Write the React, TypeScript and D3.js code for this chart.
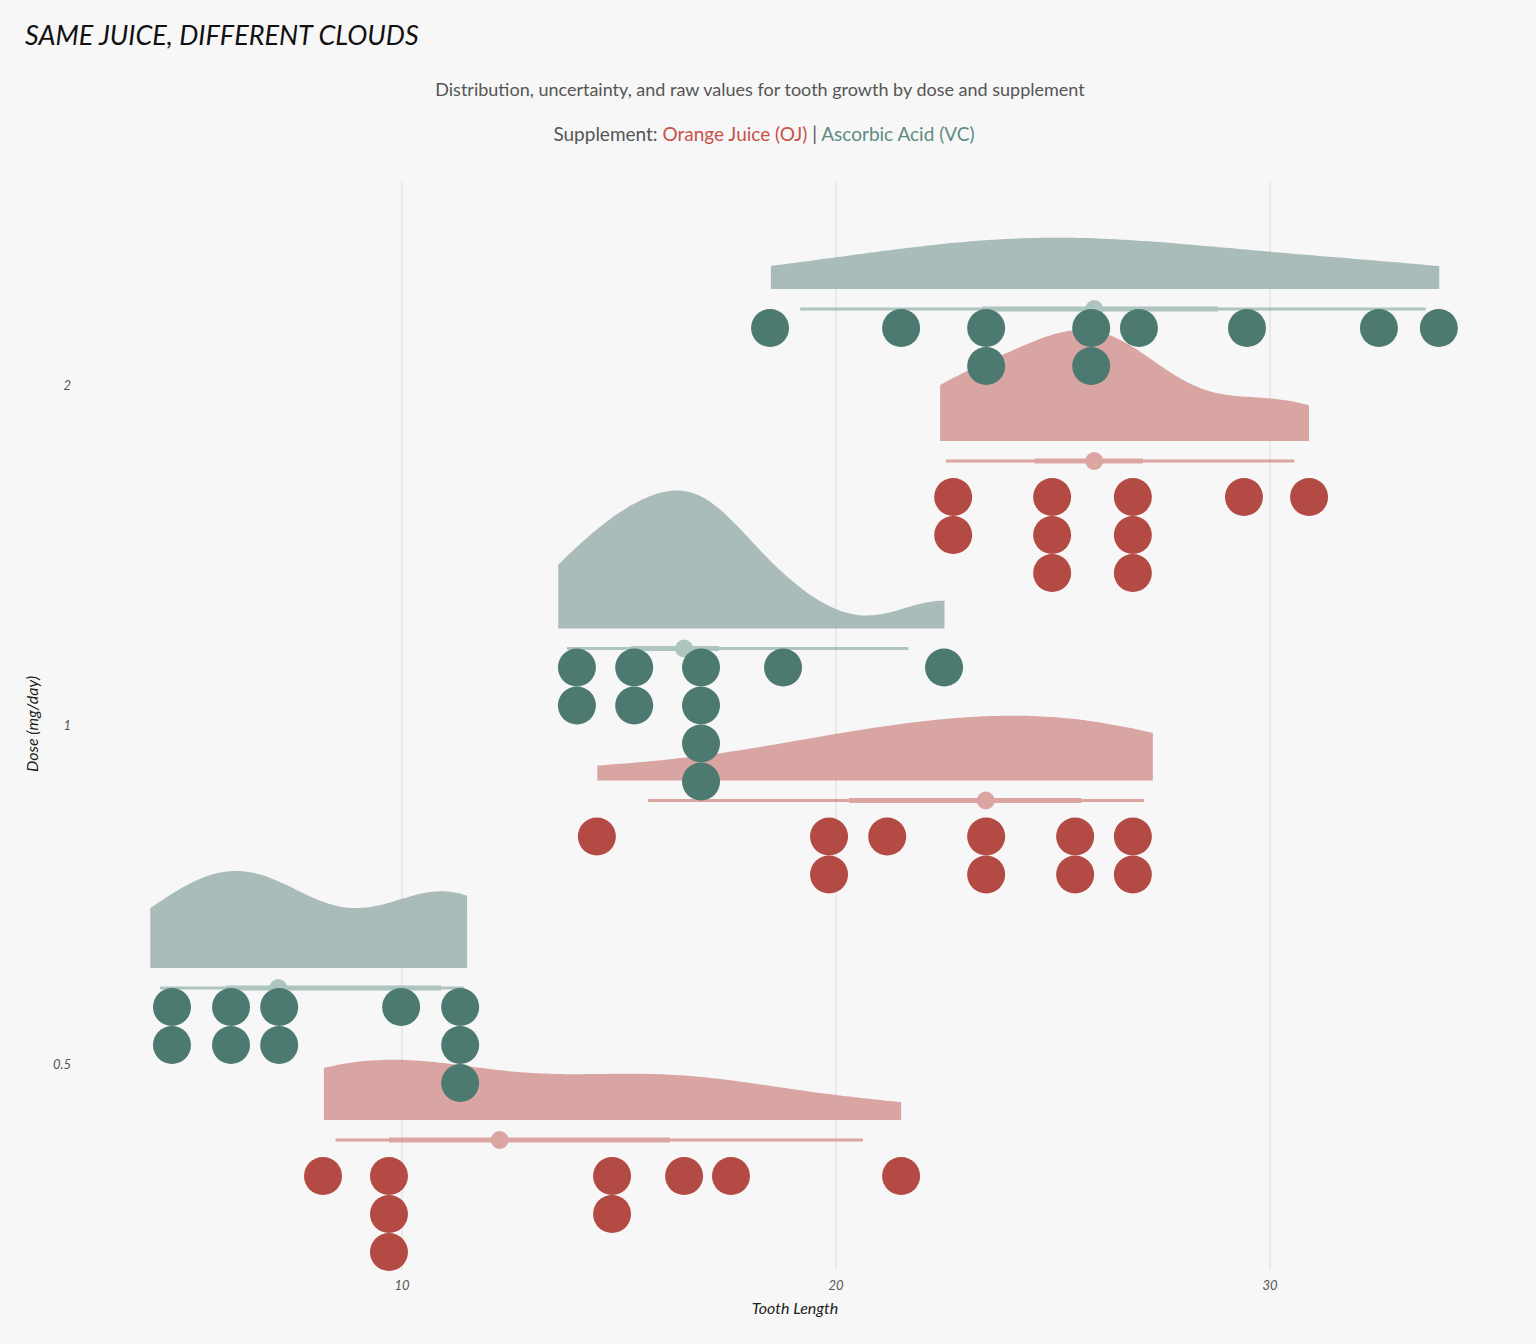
import * as d3 from "d3";

const doses = ["2", "1", "0.5"];
const supps = ["VC", "OJ"];

// raw tooth lengths by supplement and dose
const rawVC: Record<string, number[]> = {
  "0.5": [4.2, 11.5, 7.3, 5.8, 6.4, 10, 11.2, 11.2, 5.2, 7],
  "1": [16.5, 16.5, 15.2, 17.3, 22.5, 17.3, 13.6, 14.5, 18.8, 15.5],
  "2": [23.6, 18.5, 33.9, 25.5, 26.4, 32.5, 26.7, 21.5, 23.3, 29.5],
};
const rawOJ: Record<string, number[]> = {
  "0.5": [15.2, 21.5, 17.6, 9.7, 14.5, 10, 8.2, 9.4, 16.5, 9.7],
  "1": [19.7, 23.3, 23.6, 26.4, 20, 25.2, 25.8, 21.2, 14.5, 27.3],
  "2": [25.5, 26.4, 22.4, 24.5, 24.8, 30.9, 26.4, 27.3, 29.4, 23],
};

// bandwidth adjustment per group, tuned by eye
const adjVC: Record<string, number> = { "0.5": 0.95, "1": 1.25, "2": 1.5 };
const adjOJ: Record<string, number> = { "0.5": 1.0, "1": 1.3, "2": 1.2 };

// dotplot bins: [position, count]
const binsVC: Record<string, [number, number][]> = {
  "2": [[18.48, 1], [21.5, 1], [23.46, 2], [25.88, 2], [26.98, 1], [29.47, 1], [32.51, 1], [33.89, 1]],
  "1": [[14.03, 2], [15.35, 2], [16.89, 4], [18.78, 1], [22.49, 1]],
  "0.5": [[4.7, 2], [6.06, 2], [7.17, 2], [9.98, 1], [11.34, 3]],
};
const binsOJ: Record<string, [number, number][]> = {
  "2": [[22.7, 2], [24.98, 3], [26.84, 3], [29.4, 1], [30.9, 1]],
  "1": [[14.49, 1], [19.84, 2], [21.18, 1], [23.46, 2], [25.51, 2], [26.84, 2]],
  "0.5": [[8.18, 1], [9.7, 3], [14.84, 2], [16.5, 1], [17.58, 1], [21.5, 1]],
};

const xTicks = [10, 20, 30];

const COL = {
  VC: { dot: "#4d7a70", dens: "#a4b8b5", line: "#7fa39b" },
  OJ: { dot: "#b34a43", dens: "#d6a09e", line: "#c9706b" },
};
const FONT = "Lato, 'DejaVu Sans', sans-serif";

function kde(values: number[], adjust: number) {
  const n = values.length;
  const s = values.slice().sort(d3.ascending);
  const sd = d3.deviation(values)!;
  const iqr = d3.quantile(s, 0.75)! - d3.quantile(s, 0.25)!;
  const bw = adjust * 0.9 * Math.min(sd, iqr / 1.34) * Math.pow(n, -0.2);
  const [lo, hi] = d3.extent(values) as [number, number];
  const pts: [number, number][] = [];
  for (let i = 0; i <= 100; i++) {
    const x = lo + ((hi - lo) * i) / 100;
    const dens = d3.mean(values, (v) => Math.exp(-0.5 * ((x - v) / bw) ** 2) / (bw * Math.sqrt(2 * Math.PI)))!;
    pts.push([x, dens]);
  }
  return pts;
}

export default function App() {
  const W = 1536, H = 1344;
  const x = d3.scaleLinear().domain([10, 20]).range([402, 836]);
  const y = d3.scalePoint<string>().domain(doses).range([385, 1064]);
  const r = 19;

  const info = doses.flatMap((d) =>
    supps.map((s) => {
      const c = y(d)!;
      const isVC = s === "VC";
      const base = isVC ? c - 96 : c + 56;
      const raw = (isVC ? rawVC : rawOJ)[d];
      const sorted = raw.slice().sort(d3.ascending);
      return {
        key: d + s,
        base,
        dotStart: base + (isVC ? 39 : 56),
        dens: kde(raw, (isVC ? adjVC : adjOJ)[d]),
        q: (p: number) => d3.quantile(sorted, p)!,
        bins: (isVC ? binsVC : binsOJ)[d],
        col: COL[s as "VC" | "OJ"],
      };
    })
  );
  const maxD = d3.max(info, (g) => d3.max(g.dens, (p) => p[1])!)!;
  const densK = 138 / maxD;

  return (
    <svg width={W} height={H} style={{ position: "absolute", left: 0, top: 0 }} fontFamily={FONT}>
      <rect width={W} height={H} fill="#f7f7f7" />
      {xTicks.map((t) => (
        <g key={t}>
          <line x1={x(t)} x2={x(t)} y1={182} y2={1270} stroke="#dcdcdc" />
          <text x={x(t)} y={1290} textAnchor="middle" fontSize={13} fill="#555" fontStyle="italic">{t}</text>
        </g>
      ))}
      {doses.map((d) => (
        <text key={d} x={71} y={y(d)! + 5} textAnchor="end" fontSize={13} fill="#555" fontStyle="italic">{d}</text>
      ))}
      {info.map((g) => {
        const area = d3
          .area<[number, number]>()
          .x((p) => x(p[0]))
          .y0(g.base)
          .y1((p) => g.base - p[1] * densK)
          .curve(d3.curveBasis);
        return <path key={g.key} d={area(g.dens)!} fill={g.col.dens} opacity={0.95} />;
      })}
      {info.map((g) => (
        <g key={g.key} opacity={0.6}>
          <line x1={x(g.q(0.025))} x2={x(g.q(0.975))} y1={g.base + 20} y2={g.base + 20} stroke={g.col.line} strokeWidth={3} />
          <line x1={x(g.q(0.25))} x2={x(g.q(0.75))} y1={g.base + 20} y2={g.base + 20} stroke={g.col.line} strokeWidth={5} />
          <circle cx={x(g.q(0.5))} cy={g.base + 20} r={9} fill={g.col.line} />
        </g>
      ))}
      {info.map((g) => (
        <g key={g.key}>
          {g.bins.flatMap(([v, n]) =>
            d3.range(n).map((k) => (
              <circle key={v + "-" + k} cx={x(v)} cy={g.dotStart + k * 38} r={r} fill={g.col.dot} />
            ))
          )}
        </g>
      ))}
      <text x={25} y={45} fontSize={27} fontStyle="italic" fill="#111">SAME JUICE, DIFFERENT CLOUDS</text>
      <text x={760} y={96} textAnchor="middle" fontSize={18} fill="#555">
        Distribution, uncertainty, and raw values for tooth growth by dose and supplement
      </text>
      <text x={764} y={141} textAnchor="middle" fontSize={19}>
        <tspan fill="#555">Supplement:  </tspan>
        <tspan fill="#c9514a">Orange Juice (OJ)</tspan>
        <tspan fill="#555"> | </tspan>
        <tspan fill="#5e8c82">Ascorbic Acid (VC)</tspan>
      </text>
      <text x={795} y={1314} textAnchor="middle" fontSize={16} fontStyle="italic" fill="#222">Tooth Length</text>
      <text transform="translate(38,724) rotate(-90)" textAnchor="middle" fontSize={16} fontStyle="italic" fill="#222">Dose (mg/day)</text>
    </svg>
  );
}
